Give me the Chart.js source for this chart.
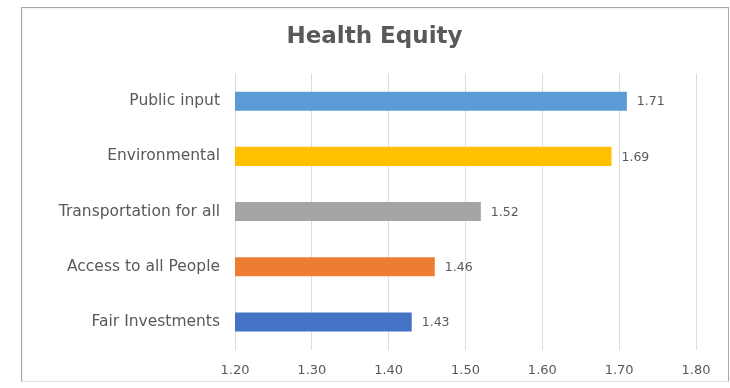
<!DOCTYPE html>
<html>
<head>
<meta charset="utf-8">
<script src="https://cdn.jsdelivr.net/npm/chart.js@4/dist/chart.umd.min.js"></script>
<style>
  html, body { margin: 0; padding: 0; background: #ffffff; }
  #wrap { position: relative; width: 730px; height: 388px; overflow: hidden; }
  #frame { position: absolute; left: 21px; top: 7px; width: 708px; height: 375px;
           border: 1px solid #a8a8a8; border-bottom-color: #e4e4e4; box-sizing: border-box;
           box-shadow: inset 1px 1px 2px rgba(0,0,0,0.06); }
  canvas { position: absolute; left: 0; top: 0; }
</style>
</head>
<body>
<div id="wrap">
  <div id="frame"></div>
  <canvas id="c" width="730" height="388"></canvas>
</div>
<script>
const chartTitle = "Health Equity";
const categories = ["Public input", "Environmental", "Transportation for all", "Access to all People", "Fair Investments"];
const values = [1.71, 1.69, 1.52, 1.46, 1.43];
const barColors = ["#5B9BD5", "#FFC000", "#A5A5A5", "#ED7D31", "#4472C4"];
const xMin = 1.20, xMax = 1.80, xStep = 0.10;

const FONT = "'DejaVu Sans', sans-serif";
const TEXT = "#595959";

const valueLabels = {
  id: "valueLabels",
  afterDatasetsDraw(chart) {
    const ctx = chart.ctx;
    const meta = chart.getDatasetMeta(0);
    ctx.save();
    ctx.font = "12.5px " + FONT;
    ctx.fillStyle = TEXT;
    ctx.textAlign = "left";
    ctx.textBaseline = "middle";
    meta.data.forEach((bar, i) => {
      ctx.fillText(values[i].toFixed(2), bar.x + 10, bar.y + 1);
    });
    ctx.restore();
  }
};

new Chart(document.getElementById("c"), {
  type: "bar",
  data: {
    labels: categories,
    datasets: [{
      data: values,
      backgroundColor: barColors,
      borderWidth: 0,
      categoryPercentage: 1.0,
      barPercentage: 0.345
    }]
  },
  options: {
    indexAxis: "y",
    responsive: false,
    animation: false,
    devicePixelRatio: 1,
    layout: { padding: { left: 53, right: 34, top: 0, bottom: 0 } },
    plugins: {
      legend: { display: false },
      tooltip: { enabled: false },
      title: {
        display: true,
        text: chartTitle,
        color: TEXT,
        font: { family: FONT, size: 23, weight: "bold" },
        padding: { top: 23, bottom: 23 }
      }
    },
    scales: {
      x: {
        min: xMin, max: xMax,
        border: { display: false },
        grid: { color: "#dcdcdc", drawTicks: false, lineWidth: 1 },
        ticks: {
          stepSize: xStep,
          padding: 13,
          color: TEXT,
          font: { family: FONT, size: 13 },
          callback: v => Number(v).toFixed(2)
        },
        afterFit(scale) { scale.height = 38.5; }
      },
      y: {
        border: { display: false },
        grid: { display: false, drawTicks: false },
        ticks: {
          padding: 15,
          color: TEXT,
          font: { family: FONT, size: 15.5 }
        },
        afterFit(scale) { scale.width = 182; }
      }
    }
  },
  plugins: [valueLabels]
});
</script>
</body>
</html>
